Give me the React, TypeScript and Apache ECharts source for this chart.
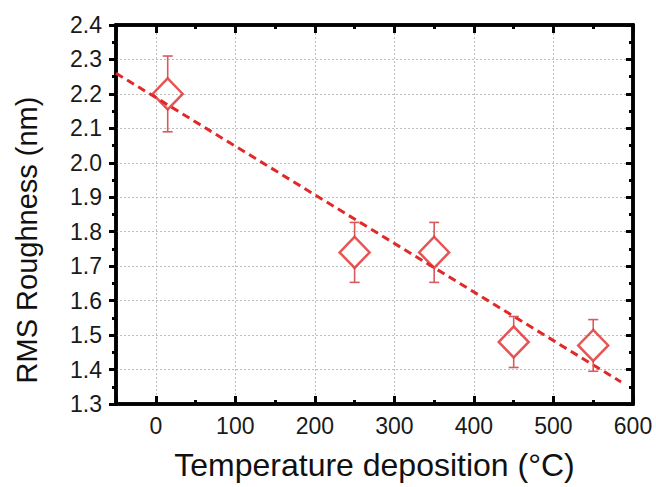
import React, { useEffect, useRef } from "react";
import * as echarts from "echarts";

const tempX = [15, 250, 350, 450, 550];
const roughnessY = [2.2, 1.74, 1.74, 1.48, 1.47];
const errorY = [0.11, 0.087, 0.087, 0.074, 0.075];
const fitX = [-50, 585];
const fitY = [2.26, 1.364];

const RED = "#e02a2a";
const ERR = "#d85a5a";
const FONT = "'Liberation Sans', Arial, sans-serif";

const tickLine = () => ({ color: "#000", width: 3 });
const axisLine = () => ({ show: true, onZero: false, lineStyle: { color: "#000", width: 3.5 } });

export default function App() {
  const ref = useRef<HTMLDivElement>(null);
  useEffect(() => {
    if (!ref.current) return;
    const chart = echarts.init(ref.current, null, { renderer: "svg" });
    const option: any = {
      animation: false,
      grid: {
        left: 116,
        right: 23,
        top: 25,
        bottom: 83,
        show: true,
        borderColor: "#000",
        borderWidth: 3.5,
        backgroundColor: "transparent",
      },
      graphic: [
        {
          type: "text",
          x: 27,
          y: 240,
          rotation: Math.PI / 2,
          style: {
            text: "RMS Roughness (nm)",
            fontSize: 29,
            fill: "#111",
            fontFamily: FONT,
            textAlign: "center",
            textVerticalAlign: "middle",
          },
        },
      ],
      xAxis: [
        {
          type: "value",
          min: -50,
          max: 600,
          position: "bottom",
          name: "Temperature deposition (°C)",
          nameLocation: "middle",
          nameGap: 45,
          nameTextStyle: { fontSize: 32, color: "#111", fontFamily: FONT },
          axisLine: axisLine(),
          axisTick: { show: true, inside: true, length: 8, lineStyle: tickLine() },
          minorTick: { show: true, splitNumber: 2, length: 4, lineStyle: tickLine() },
          axisLabel: {
            show: true,
            showMinLabel: false,
            margin: 10,
            fontSize: 23,
            color: "#1a1a1a",
            fontFamily: FONT,
          },
          splitLine: { show: true, lineStyle: { color: "#bdbdbd", width: 1, type: [2, 2] } },
        },
        {
          type: "value",
          min: -50,
          max: 600,
          position: "top",
          axisLine: axisLine(),
          axisTick: { show: true, inside: true, length: 8, lineStyle: tickLine() },
          minorTick: { show: true, splitNumber: 2, length: 4, lineStyle: tickLine() },
          axisLabel: { show: false },
          splitLine: { show: false },
        },
      ],
      yAxis: [
        {
          type: "value",
          position: "left",
          min: 1.3,
          max: 2.4,
          interval: 0.1,
          axisLine: axisLine(),
          axisTick: { show: true, inside: false, length: 7, lineStyle: tickLine() },
          minorTick: { show: true, splitNumber: 2, length: 4, lineStyle: tickLine() },
          axisLabel: {
            show: true,
            margin: 14,
            fontSize: 23,
            color: "#1a1a1a",
            fontFamily: FONT,
            formatter: (v: number) => v.toFixed(1),
          },
          splitLine: { show: true, lineStyle: { color: "#bdbdbd", width: 1, type: [2, 2] } },
        },
        {
          type: "value",
          position: "right",
          min: 1.3,
          max: 2.4,
          interval: 0.1,
          axisLine: axisLine(),
          axisTick: { show: true, inside: true, length: 7, lineStyle: tickLine() },
          minorTick: { show: true, splitNumber: 2, length: 4, lineStyle: tickLine() },
          axisLabel: { show: false },
          splitLine: { show: false },
        },
      ],
      series: [
        {
          type: "line",
          xAxisIndex: 0,
          yAxisIndex: 0,
          data: fitX.map((x, i) => [x, fitY[i]]),
          showSymbol: false,
          symbol: "none",
          lineStyle: { color: RED, width: 3, type: [8, 5] },
          z: 3,
        },
        {
          type: "custom",
          xAxisIndex: 0,
          yAxisIndex: 0,
          data: tempX.map((x, i) => [x, roughnessY[i] - errorY[i], roughnessY[i] + errorY[i], roughnessY[i]]),
          encode: { x: 0, y: [1, 2] },
          renderItem: (params: any, api: any) => {
            const x = api.value(0);
            const lo = api.coord([x, api.value(1)]);
            const hi = api.coord([x, api.value(2)]);
            const c = api.coord([x, api.value(3)]);
            const half = 15.5;
            const cap = 5;
            const style = { stroke: ERR, lineWidth: 1.6 };
            return {
              type: "group",
              children: [
                { type: "line", shape: { x1: hi[0], y1: hi[1], x2: c[0], y2: c[1] - half }, style },
                { type: "line", shape: { x1: c[0], y1: c[1] + half, x2: lo[0], y2: lo[1] }, style },
                { type: "line", shape: { x1: hi[0] - cap, y1: hi[1], x2: hi[0] + cap, y2: hi[1] }, style },
                { type: "line", shape: { x1: lo[0] - cap, y1: lo[1], x2: lo[0] + cap, y2: lo[1] }, style },
              ],
            };
          },
          z: 4,
        },
        {
          type: "scatter",
          xAxisIndex: 0,
          yAxisIndex: 0,
          data: tempX.map((x, i) => [x, roughnessY[i]]),
          symbol: "diamond",
          symbolSize: [30, 31],
          itemStyle: { color: "rgba(0,0,0,0)", borderColor: RED, borderWidth: 2.5 },
          z: 5,
        },
      ],
    };
    chart.setOption(option);
    return () => chart.dispose();
  }, []);
  return (
    <div
      ref={ref}
      style={{ position: "fixed", left: 0, top: 0, width: 656, height: 487, background: "#fff" }}
    />
  );
}
